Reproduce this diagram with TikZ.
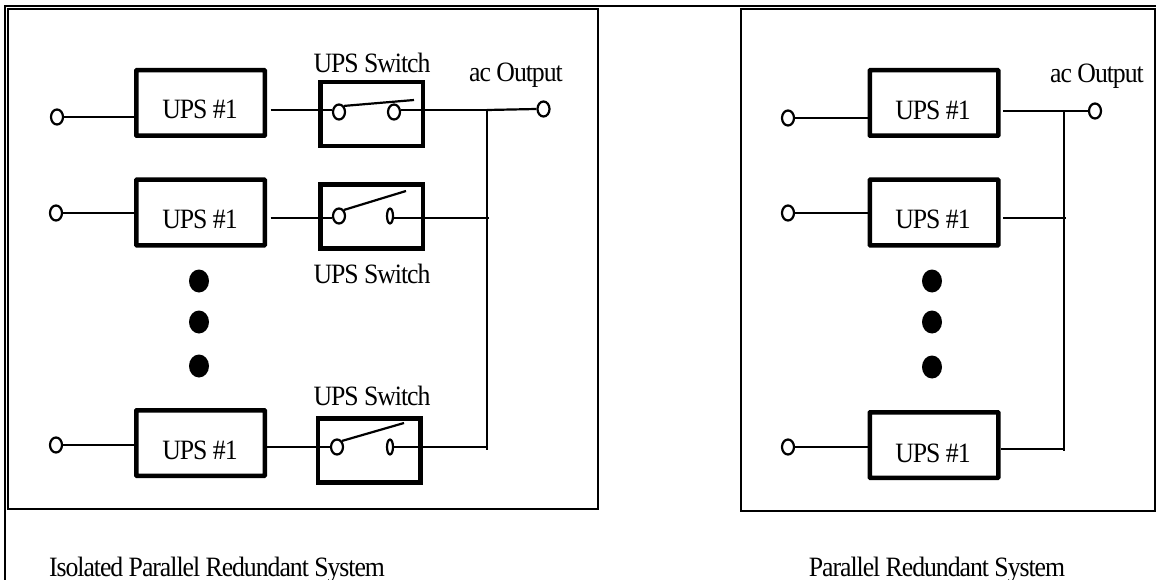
\documentclass[tikz,border=0pt]{standalone}
\usepackage{fontspec}
\setmainfont[LetterSpace=-3.7,FakeStretch=0.92]{Liberation Serif}
\usetikzlibrary{positioning,shapes.geometric}
\tikzstyle{upsbox}=[rectangle, draw=black, line width=4.5pt, inner sep=0pt, rounded corners=0.5pt,
        minimum width=128.5pt, minimum height=65.5pt]
\tikzstyle{switchbox}=[rectangle, draw=black, line width=4.5pt, inner sep=0pt,
        minimum width=102.5pt, minimum height=64pt]
\tikzstyle{panel}=[rectangle, draw=black, line width=2pt, inner sep=0pt]
\tikzstyle{terminal}=[ellipse, draw=black, fill=white, line width=2.2pt, inner sep=0pt,
        minimum width=12pt, minimum height=15pt]
\tikzstyle{narrowterminal}=[terminal, minimum width=6pt]
\tikzstyle{bigdot}=[ellipse, fill=black, inner sep=0pt, minimum width=20pt, minimum height=23pt]
\tikzstyle{plaintext}=[inner sep=0pt, anchor=base, font=\fontsize{28}{28}\selectfont]
\tikzstyle{wire}=[line width=2.2pt]

\begin{document}
\begin{tikzpicture}[x=1pt, y=-1pt]
	\useasboundingbox (0,0) rectangle (1156,580);

	% frame and the two panels
	\coordinate (frameTL) at (5,6);
	\coordinate (frameTR) at (1156,6);
	\coordinate (frameBL) at (5,580);
	\draw[wire] (frameTR) -- (frameTL) -- (frameBL);
	\node (isolatedPanel) [panel, minimum width=590pt, minimum height=500pt] at (303,259) {};
	\node (parallelPanel) [panel, minimum width=414pt, minimum height=502pt] at (947.5,260) {};

	% isolated system
	\node (upsA) [upsbox] at (200.5,103) {};
	\node (upsB) [upsbox] at (200.5,212.5) {};
	\node (upsC) [upsbox] at (200.5,443) {};
	\node at (200,119) [plaintext] (upsAtext) {UPS \#1};
	\node at (200,228) [plaintext] (upsBtext) {UPS \#1};
	\node at (200,459) [plaintext] (upsCtext) {UPS \#1};

	\node (switchA) [switchbox] at (371.5,114) {};
	\node (switchB) [switchbox] at (371.5,216.5) {};
	\node (switchC) [switchbox] at (369,450.5) {};
	\node at (372,73) [plaintext] (switchAtext) {UPS Switch};
	\node at (372,283) [plaintext] (switchBtext) {UPS Switch};
	\node at (372,405) [plaintext] (switchCtext) {UPS Switch};
	\node at (516,82) [plaintext] (outputAtext) {ac Output};

	\node (inA) [terminal] at (57,117) {};
	\node (inB) [terminal] at (56,213) {};
	\node (inC) [terminal] at (56,445) {};
	\node (outA) [terminal] at (543.5,109) {};

	\node (contactA) [terminal] at (339,112) {};
	\node (contactB) [terminal] at (339,216) {};
	\node (contactC) [terminal] at (337,447) {};
	\node (poleA) [terminal] at (394,112) {};
	\node (poleB) [narrowterminal] at (390,216) {};
	\node (poleC) [narrowterminal] at (390,447) {};

	\coordinate (startA) at (270.5,110);
	\coordinate (startB) at (270.5,218);
	\coordinate (startC) at (267,447);
	\coordinate (busTop) at (487,110);
	\coordinate (busMid) at (489,218);
	\coordinate (busEnd) at (487,450);
	\coordinate (leverA) at (414,100);
	\coordinate (leverB) at (406,191);
	\coordinate (leverC) at (404,423);

	\draw[wire] (inA) -- (inA -| upsA.west);
	\draw[wire] (inB) -- (inB -| upsB.west);
	\draw[wire] (inC) -- (inC -| upsC.west);

	\draw[wire] (startA) -- (startA -| contactA.west);
	\draw[wire] (startB) -- (startB -| contactB.west);
	\draw[wire] (startC) -- (contactC.west);
	\draw[wire] (contactA.north east) -- (leverA);
	\draw[wire] (contactB.north east) -- (leverB);
	\draw[wire] (contactC.north east) -- (leverC);
	\draw[wire] (poleA.east |- busTop) -- (busTop);
	\draw[wire] (poleB.east |- busMid) -- (busMid);
	\draw[wire] (poleC.east) -- (poleC -| busEnd);
	\draw[wire] (busTop) -- (outA.west);
	\draw[wire] (busTop) -- (busEnd);

	\node (dotA) [bigdot] at (199,281) {};
	\node (dotB) [bigdot] at (199,322) {};
	\node (dotC) [bigdot] at (199,366) {};

	\node at (217,576) [plaintext] (isolatedCaption) {Isolated Parallel Redundant System};

	% parallel system
	\node (upsD) [upsbox] at (934,103) {};
	\node (upsE) [upsbox] at (934,212.5) {};
	\node (upsF) [upsbox] at (934,445) {};
	\node at (933,120) [plaintext] (upsDtext) {UPS \#1};
	\node at (933,229) [plaintext] (upsEtext) {UPS \#1};
	\node at (933,462) [plaintext] (upsFtext) {UPS \#1};
	\node at (1097,83) [plaintext] (outputBtext) {ac Output};

	\node (inD) [terminal] at (788,118) {};
	\node (inE) [terminal] at (788,213) {};
	\node (inF) [terminal] at (788,447) {};
	\node (outB) [terminal] at (1095,111) {};

	\coordinate (startD) at (1003,111);
	\coordinate (startE) at (1003,218);
	\coordinate (startF) at (1001,449);
	\coordinate (busTopB) at (1064,111);
	\coordinate (busMidB) at (1065.5,218);
	\coordinate (busEndB) at (1064,451);

	\draw[wire] (inD) -- (inD -| upsD.west);
	\draw[wire] (inE) -- (inE -| upsE.west);
	\draw[wire] (inF) -- (inF -| upsF.west);
	\draw[wire] (startD) -- (outB.west);
	\draw[wire] (startE) -- (busMidB);
	\draw[wire] (startF) -- (startF -| busEndB);
	\draw[wire] (busTopB) -- (busEndB);

	\node (dotD) [bigdot] at (932,281) {};
	\node (dotE) [bigdot] at (932,322) {};
	\node (dotF) [bigdot] at (932,367) {};

	\node at (937,576) [plaintext] (parallelCaption) {Parallel Redundant System};

\end{tikzpicture}
\end{document}
